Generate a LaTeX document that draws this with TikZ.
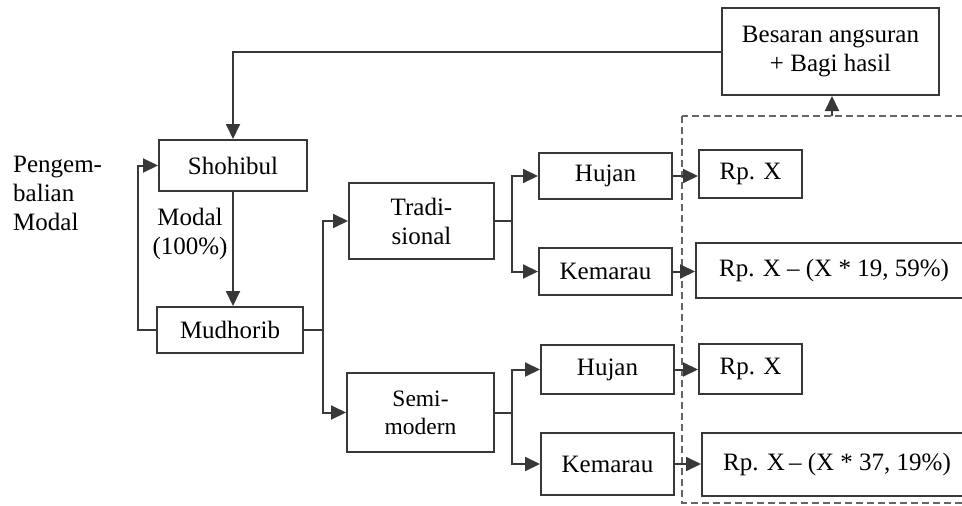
\documentclass[tikz,border=0pt]{standalone}
\usepackage{fontspec}
\setmainfont{Liberation Serif}
\usetikzlibrary{arrows.meta}
\begin{document}
\begin{tikzpicture}[x=1pt,y=-1pt,
  every node/.style={font=\fontsize{25}{29}\selectfont, text=black},
  box/.style={draw=black!78, line width=2pt, inner sep=0pt, align=center},
  conn/.style={draw=black!78, line width=2pt},
  arr/.style={conn, -{Triangle[length=15pt,width=14pt]}},
  dashbox/.style={draw=black!60, line width=2.2pt, dash pattern=on 7pt off 4pt}
]
\useasboundingbox (0,0) rectangle (962,506);
\clip (0,0) rectangle (962,506);

% nodes
\node[box, minimum width=217pt, minimum height=87pt] (top) at (830.5,51.5) {Besaran angsuran\\+ Bagi hasil};
\node[box, minimum width=148pt, minimum height=51pt] (shoh) at (233,165.5) {Shohibul};
\node[box, minimum width=146pt, minimum height=46pt] (mudh) at (230,330) {Mudhorib};
\node[box, minimum width=145pt, minimum height=76pt] (trad) at (421.5,221) {Tradi-\\sional};
\node[box, minimum width=147pt, minimum height=79pt, font=\fontsize{23.5}{28}\selectfont] (semi) at (420.5,412.5) {Semi-\\modern};
\node[box, minimum width=133pt, minimum height=46pt] (huj1) at (605.5,176) {Hujan};
\node[box, minimum width=133pt, minimum height=47pt] (kem1) at (605.5,271.5) {Kemarau};
\node[box, minimum width=133pt, minimum height=49pt] (huj2) at (607.5,369.5) {Hujan};
\node[box, minimum width=133pt, minimum height=62pt] (kem2) at (607.5,464) {Kemarau};
\node[box, minimum width=103pt, minimum height=48pt] (rp1) at (750.5,174) {Rp. X};
\node[box, minimum width=276pt, minimum height=55pt] (w1) at (834,270.5) {Rp. X – (X * 19, 59\%)};
\node[box, minimum width=103pt, minimum height=50pt] (rp2) at (750.5,368.5) {Rp. X};
\node[box, minimum width=270pt, minimum height=63pt] (w2) at (837,464.5) {Rp. X\,– (X * 37, 19\%)};

% labels
\node[inner sep=0pt, align=left, anchor=west] (peng) at (13,193) {Pengem-\\balian\\Modal};
\node[inner sep=0pt, align=center] (modal) at (190,234) {Modal\\(100\%)};

% dashed group
\coordinate (dtl) at (682,116);
\coordinate (dbr) at (980,503);
\draw[dashbox] (dtl) rectangle (dbr);
\coordinate (dtop) at (832,116);

% connectors
\draw[arr] (top.west) -| (shoh.north);
\draw[arr] (dtop) -- (top.south -| dtop);
\draw[arr] (shoh.south) -- (mudh.north -| shoh.south);
\coordinate (lp) at (138,0);
\draw[arr] (mudh.west) -- (mudh.west -| lp) |- (shoh.west);

\coordinate (j1) at (323,0);
\draw[conn] (mudh.east) -- (mudh.east -| j1);
\draw[arr] (mudh.east -| j1) |- (trad.west);
\draw[arr] (mudh.east -| j1) |- (semi.west);

\coordinate (j2) at (512,0);
\draw[conn] (trad.east) -- (trad.east -| j2);
\draw[arr] (trad.east -| j2) |- (huj1.west);
\draw[arr] (trad.east -| j2) |- (kem1.west);
\draw[conn] (semi.east) -- (semi.east -| j2);
\draw[arr] (semi.east -| j2) |- (huj2.west);
\draw[arr] (semi.east -| j2) |- (kem2.west);

\draw[arr] (huj1.east) -- (huj1.east -| rp1.west);
\draw[arr] (kem1.east) -- (kem1.east -| w1.west);
\draw[arr] (huj2.east) -- (huj2.east -| rp2.west);
\draw[arr] (kem2.east) -- (kem2.east -| w2.west);
\end{tikzpicture}
\end{document}
